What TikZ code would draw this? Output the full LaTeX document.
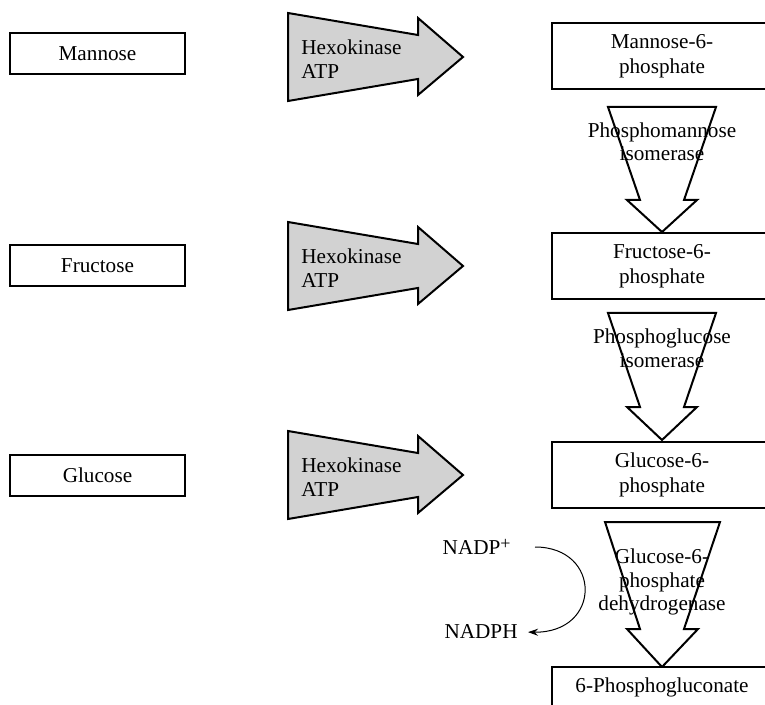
\documentclass[tikz,border=0pt]{standalone}
\usepackage{fontspec}
\setmainfont{Liberation Serif}
\usepackage{tikz}
\usetikzlibrary{arrows.meta}
\usepackage{xcolor}
\definecolor{hexgray}{RGB}{210,210,210}

\begin{document}
\begin{tikzpicture}[x=0.5pt,y=-0.5pt,
  font=\fontsize{10.6}{11.75}\selectfont,
  sugar/.style={draw,line width=1pt,minimum width=87.5pt,minimum height=20.5pt,inner sep=0pt},
  product/.style={draw,line width=1pt,fill=white,minimum width=110pt,minimum height=33pt,align=center,inner sep=0pt,
    font=\fontsize{10.6}{12.5}\selectfont},
  hexarrow/.style={draw,line width=1pt,fill=hexgray,line join=miter},
  isoarrow/.style={draw,line width=1pt,fill=white,line join=miter},
  enzyme/.style={align=left,inner sep=0pt},
  isolabel/.style={align=center,inner sep=0pt}]
  \useasboundingbox (0,0) rectangle (765,705);
  % substrates
  \node[sugar] (man) at (97.5,53.5) {Mannose};
  \node[sugar] (fru) at (97.5,265.5) {Fructose};
  \node[sugar] (glc) at (97.5,475) {Glucose};
  % hexokinase arrows
  \filldraw[hexarrow] (288,13) -- (418,35) -- (418,18) -- (463,57) -- (418,95) -- (418,79) -- (288,101) -- cycle;
  \filldraw[hexarrow] (288,222) -- (418,244) -- (418,227) -- (463,266) -- (418,304) -- (418,288) -- (288,310) -- cycle;
  \filldraw[hexarrow] (288,431) -- (418,453) -- (418,436) -- (463,475) -- (418,513) -- (418,497) -- (288,519) -- cycle;
  \node[enzyme,anchor=west] (hk1) at (301,59) {Hexokinase\\ATP};
  \node[enzyme,anchor=west] (hk2) at (301,268) {Hexokinase\\ATP};
  \node[enzyme,anchor=west] (hk3) at (301,477) {Hexokinase\\ATP};
  % isomerase and dehydrogenase arrows
  \filldraw[isoarrow] (608,107) -- (716,107) -- (684,200) -- (697,200) -- (662,232) -- (627,200) -- (640,200) -- cycle;
  \filldraw[isoarrow] (608,313) -- (716,313) -- (684,407) -- (697,407) -- (662,440) -- (627,407) -- (640,407) -- cycle;
  \filldraw[isoarrow] (605,522) -- (720,522) -- (684,629) -- (698,629) -- (662,667) -- (627,629) -- (640,629) -- cycle;
  \node[isolabel] (pmi) at (662,142) {Phosphomannose\\isomerase};
  \node[isolabel] (pgi) at (662,348) {Phosphoglucose\\isomerase};
  \node[isolabel] (gpd) at (662,582) {Glucose-6-\\phosphate\\dehydrogenase};
  % phosphorylated products
  \node[product] (m6p) at (662,56) {Mannose-6-\\phosphate};
  \node[product] (f6p) at (662,266) {Fructose-6-\\phosphate};
  \node[product] (g6p) at (662,475) {Glucose-6-\\phosphate};
  \node[product,minimum height=20pt] (pgl) at (662,687) {6-Phosphogluconate};
  % cofactor
  \node[inner sep=0pt,anchor=east] (nadp) at (511,547) {NADP\raisebox{0.5ex}{\fontsize{9}{9}\selectfont+}};
  \node[inner sep=0pt,anchor=east] (nadph) at (518,632) {NADPH};
  \draw[line width=0.5pt,-{Stealth[length=5pt,width=3.5pt]},shorten <=12pt,shorten >=5pt]
    (nadp.east) .. controls (602,547) and (602,633) .. (nadph.east);
\end{tikzpicture}
\end{document}
